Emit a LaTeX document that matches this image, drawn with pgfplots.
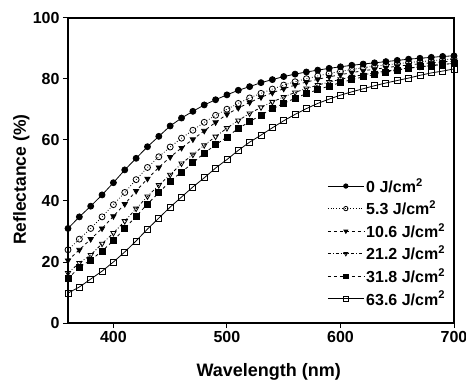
\documentclass[border=0pt]{standalone}
\usepackage{fontspec}
\setmainfont{Liberation Sans}
\usepackage{pgfplots}
\pgfplotsset{compat=1.18}
\begin{document}
\begin{tikzpicture}
\begin{axis}[
  scale only axis,
  width=386bp, height=305bp,
  xmin=360, xmax=700, ymin=0, ymax=100,
  xtick={400,500,600,700},
  ytick={0,20,40,60,80,100},
  tick align=outside,
  xtick pos=bottom, ytick pos=left,
  major tick length=5bp,
  axis line style={line width=1.5bp},
  tick style={line width=1bp, black},
  /pgf/number format/assume math mode=true,
  /pgf/number format/1000 sep={},
  tick label style={font=\fontsize{16bp}{18bp}\selectfont\bfseries},
  xlabel={Wavelength (nm)},
  ylabel={Reflectance (\%)},
  every axis x label/.style={at={(axis description cs:0.52,-0.16)}, anchor=center, font=\fontsize{18bp}{20bp}\selectfont\bfseries},
  every axis y label/.style={at={(axis description cs:-0.121,0.47)}, rotate=90, anchor=center, font=\fontsize{17.5bp}{20bp}\selectfont\bfseries},
  legend style={draw=none, fill=none, font=\fontsize{16bp}{19bp}\selectfont\bfseries,
    at={(axis description cs:0.985,0.485)}, anchor=north east, row sep=3bp,
    inner sep=1bp},
  legend cell align=left,
  legend image code/.code={\draw[mark repeat=2,mark phase=2,#1,mark size=2.2bp] plot coordinates {(0bp,0bp) (18bp,0bp) (36bp,0bp)};},
]
\addplot[black, line width=0.8bp, mark size=3bp, solid, mark=*, mark options={solid, fill=black}] table {
360 31
370 34.8
380 38.3
390 42
400 46
410 50.2
420 54
430 57.8
440 61.2
450 64.6
460 67.2
470 69.4
480 71.5
490 73.2
500 74.8
510 76.3
520 77.5
530 78.8
540 79.8
550 80.8
560 81.6
570 82.3
580 82.9
590 83.5
600 84
610 84.5
620 84.9
630 85.3
640 85.7
650 86.1
660 86.5
670 86.8
680 87.1
690 87.4
700 87.6
};
\addlegendentry{0 J/cm\textsuperscript{2}}
\addplot[black, line width=0.8bp, mark size=3bp, dotted, mark=o, mark options={solid, fill=white}] table {
360 24
370 27.5
380 31
390 34.8
400 38.8
410 42.8
420 47
430 51
440 54.5
450 57.7
460 60.6
470 63.2
480 65.8
490 68.1
500 70.1
510 72
520 73.8
530 75.3
540 76.7
550 78
560 79.1
570 80.1
580 81
590 81.8
600 82.5
610 83.1
620 83.7
630 84.2
640 84.6
650 85
660 85.4
670 85.7
680 86
690 86.3
700 86.6
};
\addlegendentry{5.3 J/cm\textsuperscript{2}}
\addplot[black, line width=0.8bp, mark size=3bp, dashed, mark=triangle*, mark options={solid, fill=black, rotate=180}] table {
360 20.5
370 24
380 27.5
390 31
400 35
410 39
420 43.3
430 47.3
440 51
450 54.4
460 57.4
470 60.2
480 63
490 65.8
500 68.4
510 70.5
520 72.3
530 74
540 75.5
550 76.8
560 78
570 79
580 79.9
590 80.7
600 81.4
610 82.1
620 82.7
630 83.2
640 83.7
650 84.2
660 84.6
670 85
680 85.3
690 85.6
700 85.9
};
\addlegendentry{10.6 J/cm\textsuperscript{2}}
\addplot[black, line width=0.8bp, mark size=3bp, dash dot, mark=triangle, mark options={solid, fill=white, rotate=180}] table {
360 16.4
370 19.7
380 22.3
390 26
400 29.5
410 33.4
420 37.5
430 41.5
440 45.2
450 48.6
460 52.3
470 55.2
480 58.3
490 61.1
500 63.9
510 66.4
520 68.7
530 70.7
540 72.5
550 74.1
560 75.6
570 76.9
580 78
590 79
600 79.9
610 80.7
620 81.4
630 82
640 82.6
650 83.1
660 83.6
670 84
680 84.4
690 84.8
700 85.1
};
\addlegendentry{21.2 J/cm\textsuperscript{2}}
\addplot[black, line width=0.8bp, mark size=3bp, dashed, mark=square*, mark options={solid, fill=black}] table {
360 14.5
370 18.3
380 20.6
390 23.6
400 27
410 31
420 35
430 39
440 42.7
450 46.5
460 49.5
470 52.5
480 55.7
490 58.4
500 61
510 63.8
520 66
530 68.2
540 70.2
550 72
560 73.7
570 75.2
580 76.5
590 77.7
600 78.8
610 79.8
620 80.7
630 81.5
640 82.2
650 82.9
660 83.5
670 84
680 84.4
690 84.8
700 85.1
};
\addlegendentry{31.8 J/cm\textsuperscript{2}}
\addplot[black, line width=0.8bp, mark size=3bp, solid, mark=square, mark options={solid, fill=white}] table {
360 9.8
370 11.8
380 14.4
390 17
400 20
410 23.3
420 26.9
430 30.8
440 34.4
450 38
460 41.3
470 44.6
480 47.6
490 50.8
500 53.6
510 56.6
520 59.3
530 61.6
540 64
550 66.3
560 68.4
570 70.3
580 72
590 73.4
600 74.7
610 75.8
620 76.8
630 77.8
640 78.7
650 79.5
660 80.3
670 81.2
680 82
690 82.6
700 83.3
};
\addlegendentry{63.6 J/cm\textsuperscript{2}}
\end{axis}
\pgfresetboundingbox
\useasboundingbox ([xshift=-68bp,yshift=-62bp]current axis.south west) rectangle ([xshift=12bp,yshift=18bp]current axis.north east);
\end{tikzpicture}
\end{document}
